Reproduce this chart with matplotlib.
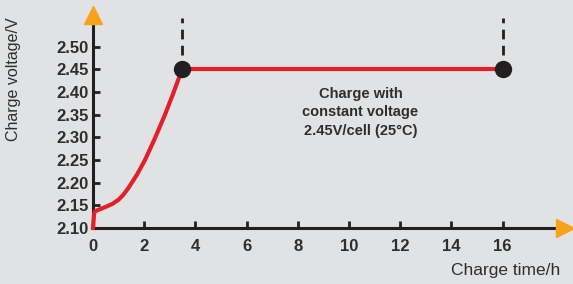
import matplotlib
matplotlib.use('Agg')
import matplotlib.pyplot as plt

# charge curve of the cell
cc_time = [0, 0.04, 0.08, 0.25, 0.47, 0.75, 0.99, 1.18, 1.38, 1.71, 2.03, 2.42, 2.81, 3.14,
           3.40, 3.48]
cc_volt = [2.10, 2.130, 2.137, 2.141, 2.146, 2.153, 2.162, 2.173, 2.188, 2.217, 2.250, 2.298,
           2.350, 2.398, 2.438, 2.45]
cv_time = [3.48, 16]
cv_volt = [2.45, 2.45]
marker_time = [3.48, 16]
marker_volt = [2.45, 2.45]
dash_span = [2.481, 2.563]

x_ticks = [0, 2, 4, 6, 8, 10, 12, 14, 16]
y_ticks = [2.10, 2.15, 2.20, 2.25, 2.30, 2.35, 2.40, 2.45, 2.50]
note = 'Charge with\nconstant voltage\n2.45V/cell (25°C)'

bg = '#e1e2e4'
ink = '#231f20'
txt = '#2e2e2e'
red = '#e3202a'
orange = '#f7a21b'

plt.rcParams['font.family'] = ['Liberation Sans', 'DejaVu Sans']

fig = plt.figure(figsize=(5.73, 2.84), dpi=100, facecolor=bg)
ax = fig.add_axes([93/573, 56/284, 480/573, 222/284])
ax.set_facecolor(bg)
ax.set_xlim(0, 18.75)
ax.set_ylim(2.10, 2.59)

for spine in ['top', 'right']:
    ax.spines[spine].set_visible(False)
for spine in ['left', 'bottom']:
    ax.spines[spine].set_color(ink)
    ax.spines[spine].set_linewidth(2.2)
    ax.spines[spine].set_capstyle('butt')
ax.spines['left'].set_bounds(2.10, 2.565)
ax.spines['bottom'].set_bounds(0, 18.2)

ax.set_xticks(x_ticks)
ax.set_yticks(y_ticks)
ax.set_yticklabels(['%.2f' % v for v in y_ticks])
ax.tick_params(direction='in', length=5, width=2, color=ink, labelcolor=txt,
               labelsize=12)
ax.tick_params(axis='x', pad=8)
ax.tick_params(axis='y', pad=3)
for lab in ax.get_xticklabels() + ax.get_yticklabels():
    lab.set_fontweight('bold')

# arrow heads
ax.plot(0, 2.57, marker='^', ms=13, color=orange, clip_on=False, zorder=5)
ax.plot(18.45, 2.10, marker='>', ms=13, color=orange, clip_on=False, zorder=5)

# curve
ax.plot(cc_time, cc_volt, color=red, lw=3, clip_on=False, solid_joinstyle='round', zorder=3)
ax.plot(cv_time, cv_volt, color=red, lw=3, clip_on=False, zorder=3)
ax.plot(marker_time, marker_volt, 'o', ms=11.5, color=ink, clip_on=False, zorder=4)
for t in marker_time:
    ax.plot([t, t], dash_span, color=ink, lw=2, linestyle=(0, (3.5, 2.3)), clip_on=False)

ax.text(10.45, 2.355, note, ha='center', va='center', fontsize=10.5, fontweight='bold',
        color=txt, linespacing=1.4)

fig.text(14/573, 1 - 79/284, 'Charge voltage/V', rotation=90, ha='center', va='center',
         fontsize=11.5, color=txt)
fig.text(560/573, 1 - 270/284, 'Charge time/h', ha='right', va='center',
         fontsize=12.5, color=txt)

fig.savefig('out.png', dpi=100, facecolor=bg)
